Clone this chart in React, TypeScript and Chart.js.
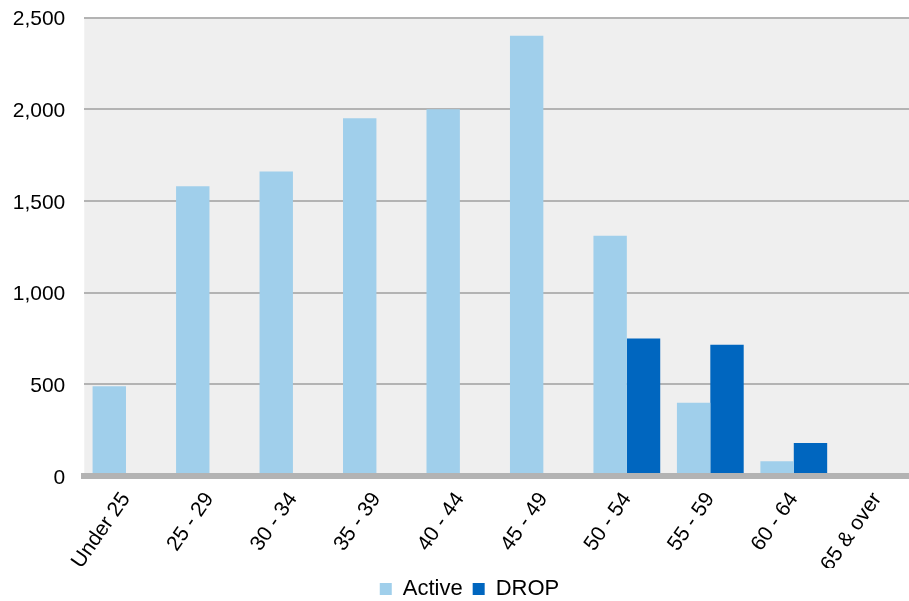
import React, { useEffect, useRef } from "react";
import { Chart, registerables } from "chart.js";

Chart.register(...registerables);

const ageBands = [
  "Under 25",
  "25 - 29",
  "30 - 34",
  "35 - 39",
  "40 - 44",
  "45 - 49",
  "50 - 54",
  "55 - 59",
  "60 - 64",
  "65 & over",
];
const activeMembers = [490, 1580, 1660, 1950, 2000, 2400, 1310, 400, 80, 0];
const dropMembers = [0, 0, 0, 0, 0, 0, 750, 715, 180, 0];
const yTickValues = [0, 500, 1000, 1500, 2000, 2500];

const FONT = "'Liberation Sans', Arial, sans-serif";

// Light grey panel behind the bars
const plotBackground = {
  id: "plotBackground",
  beforeDraw(chart: any) {
    const { ctx, chartArea } = chart;
    ctx.save();
    ctx.fillStyle = "#efefef";
    ctx.fillRect(
      chartArea.left,
      chartArea.top,
      chartArea.right - chartArea.left,
      chartArea.bottom - chartArea.top
    );
    ctx.restore();
  },
};

// Nudge the legend a little to the right of the layout's centre
const legendNudge = {
  id: "legendNudge",
  beforeDraw(chart: any) {
    if (chart.legend) {
      chart.legend.left += 10;
      chart.legend.right += 10;
    }
  },
};

export default function App() {
  const canvasRef = useRef<HTMLCanvasElement | null>(null);

  useEffect(() => {
    if (!canvasRef.current) return;
    const chart = new Chart(canvasRef.current, {
      type: "bar",
      data: {
        labels: ageBands,
        datasets: [
          {
            label: "Active",
            data: activeMembers,
            backgroundColor: "#a0cfeb",
            borderWidth: 0,
          },
          {
            label: "DROP",
            data: dropMembers,
            backgroundColor: "#0066bf",
            borderWidth: 0,
          },
        ],
      },
      options: {
        responsive: false,
        animation: false,
        devicePixelRatio: 1,
        events: [],
        layout: { padding: { top: 17.5, right: 19, left: 0, bottom: 0 } },
        datasets: {
          bar: { categoryPercentage: 0.8, barPercentage: 1 },
        },
        plugins: {
          tooltip: { enabled: false },
          legend: {
            position: "bottom",
            labels: {
              boxWidth: 12,
              boxHeight: 12,
              padding: 10,
              color: "#000",
              font: { family: FONT, size: 22 },
            },
          },
        },
        scales: {
          x: {
            grid: { display: false, drawTicks: false },
            border: { display: true, color: "#b3b3b3", width: 6, z: 1 },
            ticks: {
              color: "#000",
              font: { family: FONT, size: 21 },
              minRotation: 55,
              maxRotation: 55,
              padding: 12,
              autoSkip: false,
            },
            afterFit(scale: any) {
              scale.height = 92;
            },
          },
          y: {
            min: 0,
            max: 2500,
            afterBuildTicks(scale: any) {
              scale.ticks = yTickValues.map((v) => ({ value: v }));
            },
            grid: { color: "#b3b3b3", lineWidth: 2, drawTicks: false },
            border: { display: false },
            ticks: {
              color: "#000",
              font: { family: FONT, size: 21 },
              padding: 19,
              labelOffset: 2,
              callback: (v: any) => Number(v).toLocaleString("en-US"),
            },
            afterFit(scale: any) {
              scale.width = 84.25;
              scale.paddingTop = 0;
              scale.paddingBottom = 0;
            },
          },
        },
      },
      plugins: [plotBackground, legendNudge],
    });
    return () => chart.destroy();
  }, []);

  return (
    <div
      style={{
        position: "fixed",
        left: 0,
        top: 0,
        width: 909,
        height: 601,
        overflow: "hidden",
        background: "#fff",
      }}
    >
      <canvas ref={canvasRef} width={938} height={610} style={{ display: "block" }} />
    </div>
  );
}
